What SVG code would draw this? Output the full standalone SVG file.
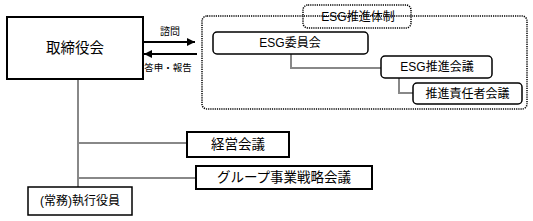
<svg xmlns="http://www.w3.org/2000/svg" width="533" height="221" viewBox="0 0 533 221">
<style>
text{font-family:"Liberation Sans","Noto Sans CJK JP",sans-serif;fill:#000;text-anchor:middle;dominant-baseline:central}
.box{fill:#fff;stroke:#000;stroke-width:2}
.rbox{fill:#fff;stroke:#000;stroke-width:1.5}
.dot{fill:none;stroke:#000;stroke-width:1.5;stroke-dasharray:1.2 1}
.gray{fill:none;stroke:#888;stroke-width:2}
.arr{fill:none;stroke:#000;stroke-width:2}
</style>
<defs>
<marker id="ah" markerWidth="8" markerHeight="8" refX="8" refY="4" orient="auto" markerUnits="userSpaceOnUse">
<path d="M0,0 L8,4 L0,8 Z" fill="#000"/>
</marker>
</defs>
<g id="esg-system">
<rect x="202" y="16" width="325" height="93" rx="5" class="dot"/>
</g>
<g id="connectors">
<line x1="78" y1="79" x2="78" y2="187" class="gray"/>
<line x1="78" y1="143" x2="187" y2="143" class="gray"/>
<line x1="78" y1="178" x2="196" y2="178" class="gray"/>
<polyline points="291,54 291,68 381,68" class="gray"/>
<polyline points="399,78 399,93 413,93" class="gray"/>
<line x1="143" y1="42" x2="195" y2="42" class="arr" marker-end="url(#ah)"/>
<line x1="197" y1="54" x2="144" y2="54" class="arr" marker-end="url(#ah)"/>
<text x="170" y="31" font-size="10">諮問</text>
<text x="168" y="67" font-size="9.5">答申・報告</text>
</g>
<g id="board">
<rect x="7" y="17" width="136" height="62" class="box"/>
<text x="75" y="48" font-size="14.5">取締役会</text>
</g>
<g id="esg-label">
<rect x="303" y="5" width="108" height="23" rx="5" fill="#fff" class="dot"/>
<text x="358" y="16.5" font-size="12">ESG推進体制</text>
</g>
<g id="esg-committee">
<rect x="213" y="32" width="155" height="22" rx="4" class="rbox"/>
<text x="290" y="43" font-size="12">ESG委員会</text>
</g>
<g id="esg-promotion">
<rect x="381" y="56" width="111" height="22" rx="4" class="rbox"/>
<text x="437" y="67" font-size="12">ESG推進会議</text>
</g>
<g id="esg-leaders">
<rect x="413" y="83" width="109" height="21" rx="4" class="rbox"/>
<text x="467.5" y="93.5" font-size="12">推進責任者会議</text>
</g>
<g id="management">
<rect x="187" y="132" width="102" height="25" class="box"/>
<text x="238" y="144.5" font-size="13.5">経営会議</text>
</g>
<g id="group-strategy">
<rect x="196" y="166" width="176" height="23" class="box"/>
<text x="284" y="177.5" font-size="13.5">グループ事業戦略会議</text>
</g>
<g id="officers">
<rect x="28" y="187" width="104" height="28" class="rbox"/>
<text x="80" y="201" font-size="12">(常務)執行役員</text>
</g>
</svg>
